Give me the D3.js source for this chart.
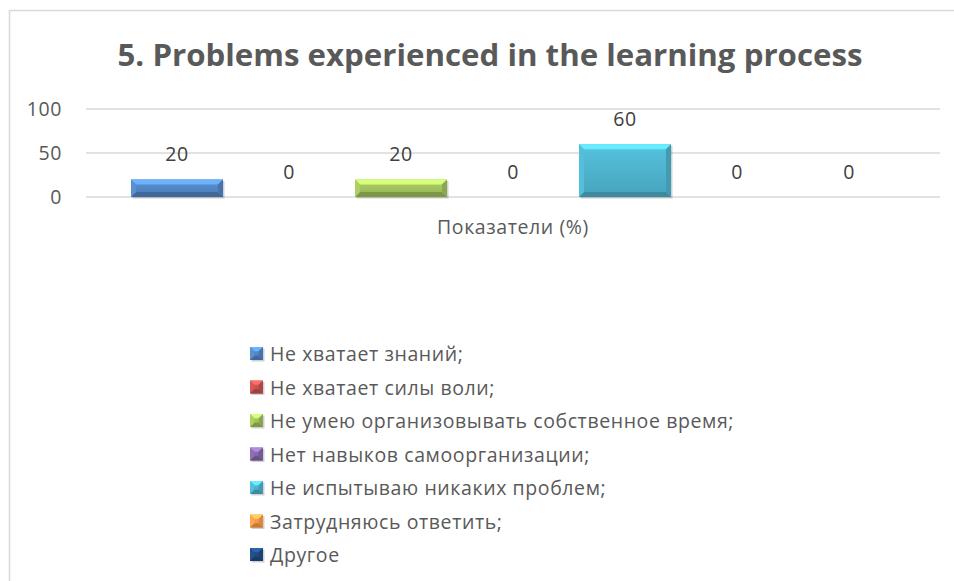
<!DOCTYPE html>
<html>
<head>
<meta charset="utf-8">
<script src="https://cdn.jsdelivr.net/npm/d3@7"></script>
<style>
  html, body { margin: 0; padding: 0; background: #fff; }
  svg { display: block; font-family: "Open Sans", "Noto Sans", sans-serif; }
</style>
</head>
<body>
<svg id="chart" width="954" height="581"></svg>
<script>
// chart data
const title = '5. Problems experienced in the learning process'
const categories = ['Показатели (%)']
const seriesNames = [
  'Не хватает знаний;',
  'Не хватает силы воли;',
  'Не умею организовывать собственное время;',
  'Нет навыков самоорганизации;',
  'Не испытываю никаких проблем;',
  'Затрудняюсь ответить;',
  'Другое'
]
const seriesValues = [20, 0, 20, 0, 60, 0, 0]
const seriesColors = ['#4f81bd', '#c0504d', '#9bbb59', '#8064a2', '#4bacc6', '#f79646', '#1f497d']
const yTicks = [0, 50, 100]

const svg = d3.select('#chart')
const width = 954
const margin = { top: 109, right: 14, left: 86 }
const plotBottom = 197
const fontSize = 19.5
const spacing = '0.6px'

// outer frame of the chart area
svg.append('rect')
  .attr('x', 9.5).attr('y', 10.5)
  .attr('width', 980).attr('height', 620)
  .attr('fill', '#fff')
  .attr('stroke', '#d9d9d9')
  .attr('stroke-width', 1.5)

svg.append('text')
  .attr('x', 490).attr('y', 66)
  .attr('text-anchor', 'middle')
  .attr('font-size', 31)
  .attr('font-weight', 'bold')
  .attr('fill', '#595959')
  .attr('textLength', 745)
  .attr('lengthAdjust', 'spacingAndGlyphs')
  .text(title)

const x0 = d3.scaleBand()
  .domain(categories)
  .range([margin.left, width - margin.right])

const x1 = d3.scaleBand()
  .domain(seriesNames)
  .range([0, x0.bandwidth()])
  .paddingInner(0.1786)
  .paddingOuter(0.4018)

const y = d3.scaleLinear()
  .domain([0, 100])
  .range([plotBottom, margin.top])

// gridlines
svg.append('g')
  .selectAll('line')
  .data(yTicks)
  .enter()
  .append('line')
  .attr('x1', margin.left)
  .attr('x2', width - margin.right)
  .attr('y1', d => y(d))
  .attr('y2', d => y(d))
  .attr('stroke', '#d9d9d9')
  .attr('stroke-width', 1.5)

// y axis labels (no axis line)
const yAxis = svg.append('g')
  .attr('transform', 'translate(' + (margin.left - 24) + ',0)')
  .call(d3.axisLeft(y).tickValues(yTicks).tickSize(0).tickPadding(0))
yAxis.select('.domain').remove()
yAxis.selectAll('text')
  .attr('font-family', '"Open Sans", sans-serif')
  .attr('font-size', fontSize)
  .attr('letter-spacing', spacing)
  .attr('fill', '#595959')

const defs = svg.append('defs')
seriesColors.forEach(function(c, i) {
  const g = defs.append('linearGradient')
    .attr('id', 'grad' + i)
    .attr('x1', 0).attr('y1', 0).attr('x2', 0).attr('y2', 1)
  g.append('stop').attr('offset', '0%').attr('stop-color', d3.color(c).brighter(0.35))
  g.append('stop').attr('offset', '100%').attr('stop-color', d3.color(c).darker(0.15))
})

// beveled box like the office theme bars
function bevelBox(g, x, yTop, w, h, i) {
  const c = d3.color(seriesColors[i])
  const b = Math.min(5, h / 3, w / 3)
  g.append('rect')
    .attr('x', x + 1.5).attr('y', yTop + 1.5)
    .attr('width', w).attr('height', h)
    .attr('fill', '#000').attr('opacity', 0.18)
  g.append('rect')
    .attr('x', x).attr('y', yTop)
    .attr('width', w).attr('height', h)
    .attr('fill', 'url(#grad' + i + ')')
  const pts = {
    top: [[x, yTop], [x + w, yTop], [x + w - b, yTop + b], [x + b, yTop + b]],
    bottom: [[x, yTop + h], [x + w, yTop + h], [x + w - b, yTop + h - b], [x + b, yTop + h - b]],
    left: [[x, yTop], [x + b, yTop + b], [x + b, yTop + h - b], [x, yTop + h]],
    right: [[x + w, yTop], [x + w - b, yTop + b], [x + w - b, yTop + h - b], [x + w, yTop + h]]
  }
  const fills = {
    top: c.brighter(0.9),
    bottom: c.darker(0.6),
    left: c.brighter(0.3),
    right: c.darker(0.3)
  }
  Object.keys(pts).forEach(function(k) {
    g.append('polygon')
      .attr('points', pts[k].map(p => p.join(',')).join(' '))
      .attr('fill', fills[k])
  })
}

const bars = svg.append('g')
seriesNames.forEach(function(name, i) {
  const v = seriesValues[i]
  const bx = x0(categories[0]) + x1(name)
  if (v > 0) {
    bevelBox(bars, bx, y(v), x1.bandwidth(), y(0) - y(v), i)
  }
})

// data labels
svg.append('g')
  .selectAll('text')
  .data(seriesNames)
  .enter()
  .append('text')
  .attr('x', d => x0(categories[0]) + x1(d) + x1.bandwidth() / 2)
  .attr('y', (d, i) => y(seriesValues[i]) - 18)
  .attr('text-anchor', 'middle')
  .attr('font-size', fontSize)
  .attr('letter-spacing', spacing)
  .attr('fill', '#404040')
  .text((d, i) => seriesValues[i])

// category label
svg.append('text')
  .attr('x', x0(categories[0]) + x0.bandwidth() / 2)
  .attr('y', 234)
  .attr('text-anchor', 'middle')
  .attr('font-size', fontSize)
  .attr('letter-spacing', spacing)
  .attr('fill', '#595959')
  .text(categories[0])

// legend
const legend = svg.append('g')
  .attr('transform', 'translate(250,0)')
seriesNames.forEach(function(name, i) {
  const cy = 354 + i * 33.5
  bevelBox(legend, 0, cy - 7, 13, 13, i)
  legend.append('text')
    .attr('x', 20)
    .attr('y', cy + 7)
    .attr('font-size', fontSize)
    .attr('letter-spacing', spacing)
    .attr('fill', '#595959')
    .text(name)
})
</script>
</body>
</html>
